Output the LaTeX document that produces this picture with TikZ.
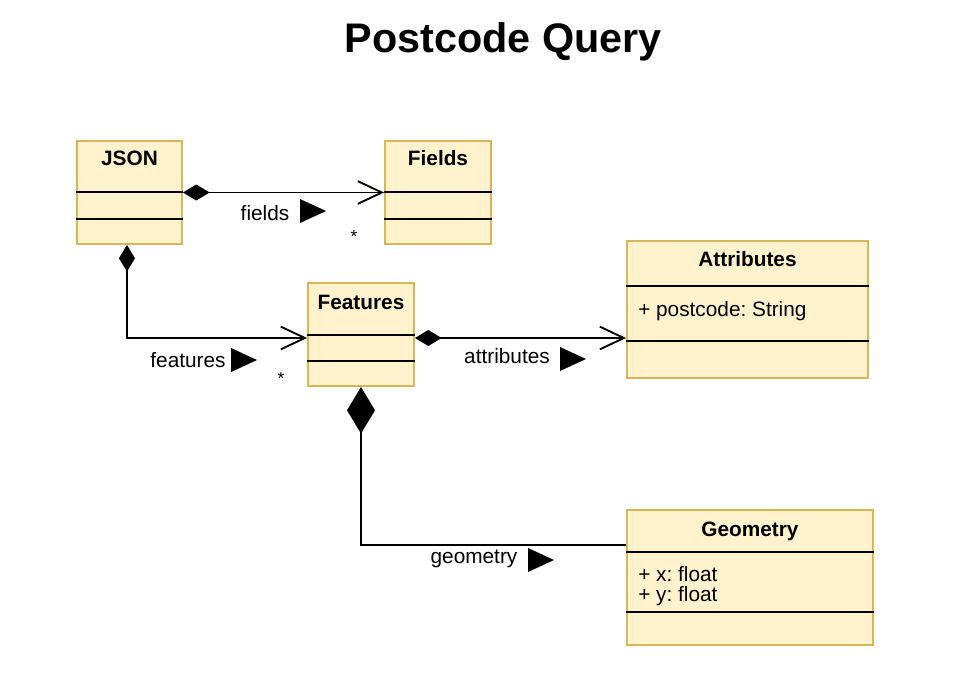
\documentclass[tikz,border=0pt]{standalone}
\usepackage{fontspec}
\setmainfont{Liberation Sans}
\usetikzlibrary{arrows.meta}
\definecolor{boxfill}{HTML}{FFF2CC}
\definecolor{boxline}{HTML}{D6B656}
\frenchspacing
\begin{document}
\begin{tikzpicture}[x=0.75pt,y=-0.75pt,
  umlbox/.style={draw=boxline, fill=boxfill, line width=1.4pt, inner sep=0pt},
  divider/.style={line width=1.4pt},
  boxtitle/.style={font=\fontsize{15.6}{18}\selectfont\bfseries, anchor=base, inner sep=0pt},
  attr/.style={font=\fontsize{15.6}{18}\selectfont, anchor=base west, inner sep=0pt},
  lbl/.style={font=\fontsize{15.6}{18}\selectfont, anchor=base, inner sep=0pt},
  starlbl/.style={font=\fontsize{13}{15}\selectfont, inner sep=0pt},
  conn/.style={line width=1.4pt},
  comp/.style={conn, {Diamond[length=20pt,width=12pt]}-{Straight Barb[length=18pt,width=17pt]}},
  bigcomp/.style={conn, {Diamond[length=35pt,width=21pt]}-},
]
\useasboundingbox (0,0) rectangle (961,672);

% title
\node[font=\fontsize{31}{36}\selectfont\bfseries, inner sep=0pt, anchor=base] (title) at (503,52) {Postcode Query};

% boxes
\node[umlbox, minimum width=105*0.75pt, minimum height=103*0.75pt] (json) at (129.5,192.5) {};
\node[umlbox, minimum width=106*0.75pt, minimum height=103*0.75pt] (fields) at (438,192.5) {};
\node[umlbox, minimum width=106*0.75pt, minimum height=103*0.75pt] (features) at (361,334.5) {};
\node[umlbox, minimum width=241*0.75pt, minimum height=137*0.75pt] (attributes) at (747.5,309.5) {};
\node[umlbox, minimum width=246*0.75pt, minimum height=135*0.75pt] (geometry) at (750,577.5) {};

% box titles
\node[boxtitle] (jsonT) at (129.5,165.5) {JSON};
\node[boxtitle] (fieldsT) at (438,165.5) {Fields};
\node[boxtitle] (featuresT) at (361,309.5) {Features};
\node[boxtitle] (attributesT) at (747.5,266.5) {Attributes};
\node[boxtitle] (geometryT) at (750,536.5) {Geometry};

% attributes
\node[attr] (pc) at (638,316) {+ postcode: String};
\node[attr] (gx) at (638,581) {+ x: float};
\node[attr] (gy) at (638,601.5) {+ y: float};

% dividers
\draw[divider] (json.west |- 0,192) -- (json.east |- 0,192);
\draw[divider] (json.west |- 0,219) -- (json.east |- 0,219);
\draw[divider] (fields.west |- 0,192) -- (fields.east |- 0,192);
\draw[divider] (fields.west |- 0,219) -- (fields.east |- 0,219);
\draw[divider] (features.west |- 0,335) -- (features.east |- 0,335);
\draw[divider] (features.west |- 0,361) -- (features.east |- 0,361);
\draw[divider] (attributes.west |- 0,286) -- (attributes.east |- 0,286);
\draw[divider] (attributes.west |- 0,341) -- (attributes.east |- 0,341);
\draw[divider] (geometry.west |- 0,552) -- (geometry.east |- 0,552);
\draw[divider] (geometry.west |- 0,612) -- (geometry.east |- 0,612);

% connectors
\draw[comp] (json.east) -- (fields.west);
\draw[comp] ([xshift=-1.9pt]json.south) |- (features.west |- 0,338);
\draw[comp] (features.east |- 0,338) -- (attributes.west |- 0,338);
\draw[bigcomp] (features.south) |- (geometry.west |- 0,545);

% labels
\node[lbl] (lf) at (265,220) {fields};
\fill (300,199) -- (326,211) -- (300,223) -- cycle;
\node[starlbl] (sf) at (354,237) {*};

\node[lbl] (lfe) at (188,367) {features};
\fill (231,348) -- (257,360) -- (231,372) -- cycle;
\node[starlbl] (sfe) at (281,379) {*};

\node[lbl] (la) at (507,363) {attributes};
\fill (560,347) -- (586,359) -- (560,371) -- cycle;

\node[lbl] (lg) at (474,563) {geometry};
\fill (528,548) -- (554,560) -- (528,572) -- cycle;
\end{tikzpicture}
\end{document}
